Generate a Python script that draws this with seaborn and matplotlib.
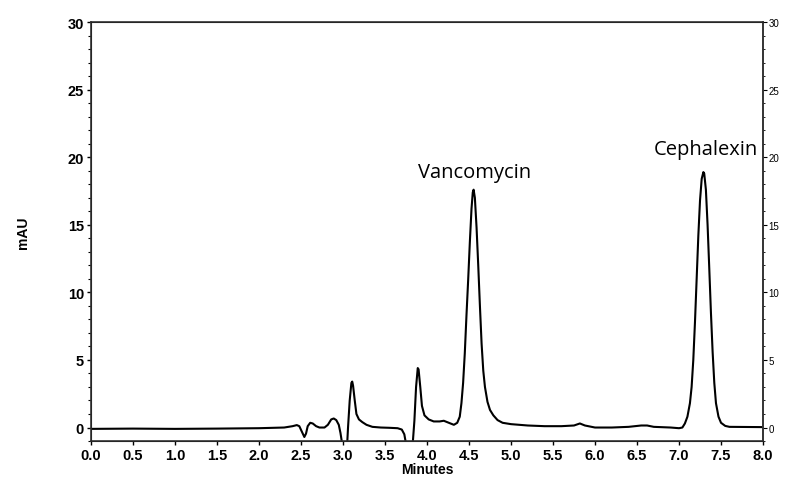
import matplotlib
matplotlib.use("Agg")
import matplotlib.pyplot as plt
from matplotlib.ticker import MultipleLocator
import seaborn as sns
import pandas as pd

# chromatogram trace (minutes, mAU)
minutes = [0.0, 0.5, 1.0, 1.5, 2.0, 2.3, 2.40, 2.45, 2.48, 2.51, 2.54, 2.56, 2.58,
           2.61, 2.64, 2.68, 2.72, 2.78, 2.82, 2.86, 2.89, 2.92, 2.95, 2.97, 2.99,
           3.05, 3.06, 3.08, 3.10, 3.11, 3.12, 3.14, 3.16, 3.19, 3.23, 3.28, 3.35,
           3.45, 3.55, 3.65, 3.70, 3.73, 3.75, 3.83, 3.85, 3.87, 3.89, 3.90, 3.92,
           3.94, 3.97, 4.02, 4.08, 4.15, 4.20, 4.26, 4.32, 4.36, 4.39, 4.41, 4.43,
           4.45, 4.47, 4.49, 4.51, 4.53, 4.545, 4.555, 4.57, 4.59, 4.61, 4.63, 4.65,
           4.67, 4.69, 4.72, 4.75, 4.79, 4.84, 4.90, 5.00, 5.10, 5.2, 5.4, 5.6,
           5.75, 5.82, 5.88, 6.0, 6.2, 6.4, 6.55, 6.62, 6.7, 6.9, 7.0, 7.04, 7.07,
           7.10, 7.13, 7.15, 7.17, 7.19, 7.21, 7.23, 7.25, 7.27, 7.29, 7.30, 7.32,
           7.34, 7.36, 7.38, 7.40, 7.42, 7.44, 7.47, 7.50, 7.55, 7.6, 8.0]
mau = [-0.10, -0.08, -0.10, -0.08, -0.05, 0.00, 0.10, 0.18, 0.10, -0.30, -0.70, -0.45, 0.10,
       0.35, 0.30, 0.10, 0.00, 0.00, 0.20, 0.60, 0.67, 0.55, 0.20, -0.40, -1.20,
       -1.20, 0.00, 2.0, 3.3, 3.4, 3.1, 2.0, 1.0, 0.6, 0.4, 0.2, 0.05,
       0.00, -0.02, -0.05, -0.15, -0.5, -1.2, -1.2, 0.5, 3.0, 4.4, 4.3, 3.0,
       1.6, 0.9, 0.6, 0.45, 0.45, 0.5, 0.35, 0.2, 0.35, 0.8, 1.8, 3.3,
       5.5, 8.3, 10.9, 13.7, 16.2, 17.4, 17.6, 17.0, 14.8, 12.0, 9.0, 6.2,
       4.2, 3.0, 1.9, 1.3, 0.9, 0.55, 0.35, 0.25, 0.2, 0.15, 0.1, 0.1,
       0.15, 0.3, 0.15, 0.0, 0.0, 0.05, 0.15, 0.15, 0.05, 0.0, -0.05, 0.0, 0.3,
       0.8, 1.8, 3.0, 5.0, 7.8, 11.0, 14.2, 16.8, 18.4, 18.9, 18.8, 17.6,
       15.0, 11.8, 8.5, 5.6, 3.3, 1.8, 0.8, 0.35, 0.12, 0.05, 0.03]

peak_names = ["Vancomycin", "Cephalexin"]
peak_label_x = [4.57, 7.32]
peak_label_y = [18.9, 20.6]

df = pd.DataFrame({"Minutes": minutes, "mAU": mau})

sns.set_style("ticks")
plt.rcParams["font.family"] = ["Liberation Sans", "DejaVu Sans"]
plt.rcParams["text.color"] = "black"
plt.rcParams["xtick.color"] = "black"
plt.rcParams["ytick.color"] = "black"
plt.rcParams["axes.labelcolor"] = "black"

fig = plt.figure(figsize=(8.1, 4.81), dpi=100)
ax = fig.add_axes([0.1123, 0.081, 0.8297, 0.871])

sns.lineplot(data=df, x="Minutes", y="mAU", ax=ax, color="black",
             linewidth=1.5, estimator=None, sort=False)

ax.set_xlim(0, 8)
ax.set_ylim(-1, 30)
ax.xaxis.set_major_locator(MultipleLocator(0.5))
ax.yaxis.set_major_locator(MultipleLocator(5))
ax.yaxis.set_minor_locator(MultipleLocator(1))
ax.set_xticklabels([f"{v:.1f}" for v in ax.get_xticks()], fontweight="bold", fontsize=10.5)
ax.set_yticklabels([f"{int(v)}" for v in ax.get_yticks()], fontweight="bold", fontsize=10.5)
ax.tick_params(axis="both", which="major", length=3, width=1, pad=2)
ax.tick_params(axis="y", which="minor", length=2, width=0.8)
ax.set_xlabel("Minutes", fontweight="bold", fontsize=10, labelpad=0)
ax.set_ylabel("mAU", fontweight="bold", fontsize=10, labelpad=27)

for spine in ax.spines.values():
    spine.set_visible(True)
    spine.set_linewidth(1.2)
    spine.set_color("#333333")

ax2 = ax.twinx()
ax2.set_ylim(-1, 30)
ax2.yaxis.set_major_locator(MultipleLocator(5))
ax2.yaxis.set_minor_locator(MultipleLocator(1))
ax2.tick_params(axis="y", which="major", length=3, labelsize=7, pad=1)
ax2.tick_params(axis="y", which="minor", length=1.5, width=0.6)
ax2.spines["right"].set_linewidth(1.2)
ax2.spines["right"].set_color("#333333")

for name, lx, ly in zip(peak_names, peak_label_x, peak_label_y):
    ax.text(lx, ly, name, ha="center", va="center", fontsize=14.5,
            color="black", family=["Open Sans", "DejaVu Sans"])

fig.savefig("out.png", dpi=100)
